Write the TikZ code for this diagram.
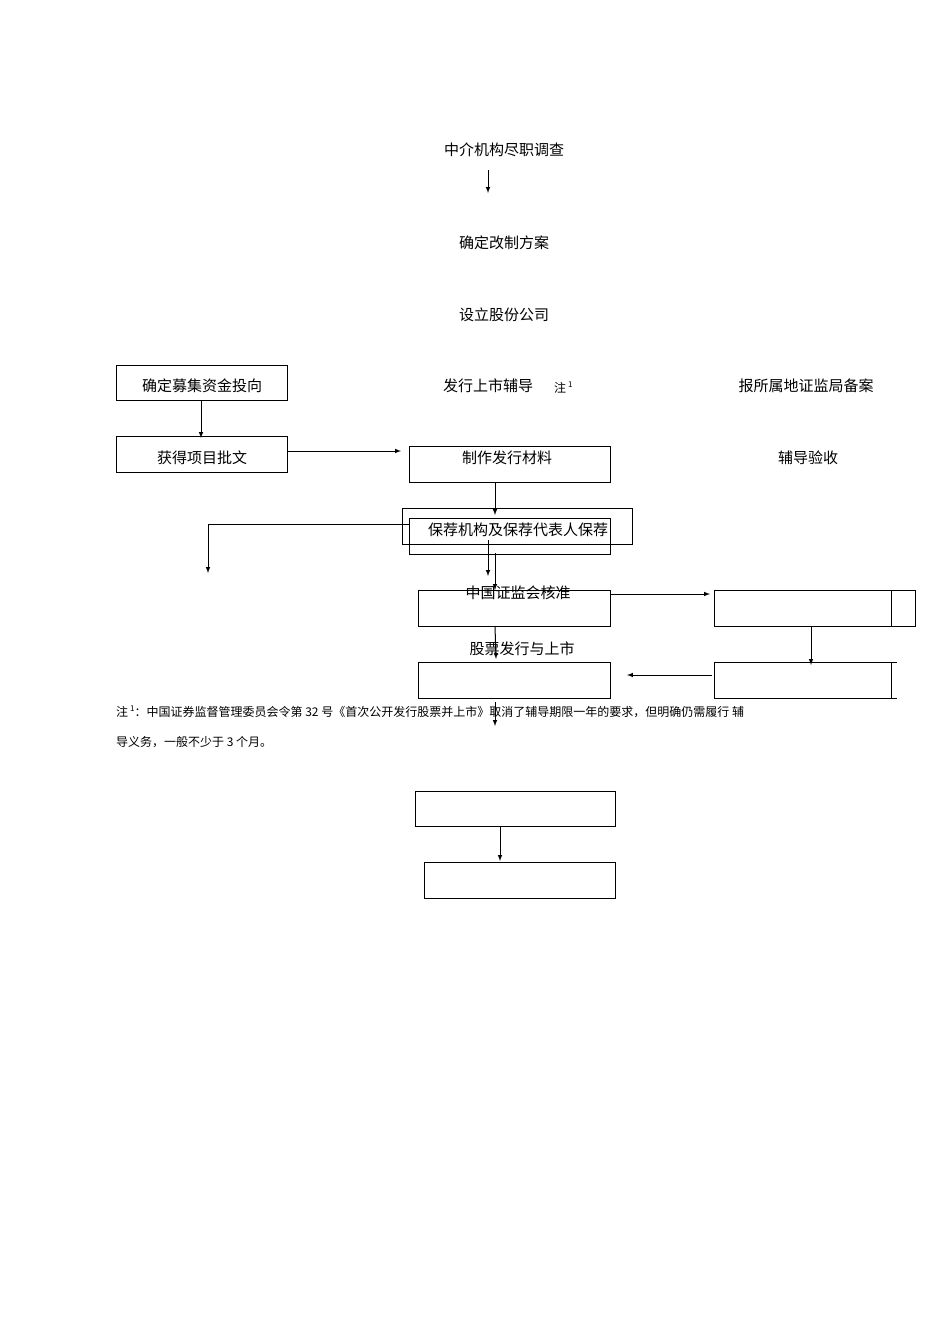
\documentclass[tikz,border=0pt]{standalone}
\usepackage{fontspec}
\setmainfont{Liberation Serif}
\newfontfamily\cjk{Noto Sans CJK SC}
\begin{document}
\begin{tikzpicture}[x=1pt,y=-1pt,
  bx/.style={draw,line width=0.8pt},
  ar/.style={-latex,line width=1pt},
  lb/.style={font=\cjk\fontsize{15}{18}\selectfont,inner sep=0pt},
  nt/.style={font=\cjk\fontsize{12}{14}\selectfont,inner sep=0pt,anchor=west}]
\useasboundingbox (0,0) rectangle (950,1344);
\node[lb] (t1) at (504,150) {中介机构尽职调查};
\coordinate (a1s) at (488,170); \coordinate (a1e) at (488,193);
\draw[ar] (a1s) -- (a1e);
\node[lb] (t2) at (504,243) {确定改制方案};
\node[lb] (t3) at (504,315) {设立股份公司};
\draw[bx] (116,365) rectangle (287,400);
\node[lb] (A) at (202,386) {确定募集资金投向};
\node[lb] (fx) at (488,386) {发行上市辅导};
\node[nt] (zhu) at (554,388) {注\,\raisebox{5pt}{\fontsize{8}{8}\selectfont 1}};
\node[lb] (bs) at (806,386) {报所属地证监局备案};
\draw[ar] (201,400) -- (201,438);
\draw[bx] (116,436) rectangle (287,472);
\node[lb] (B) at (202,458) {获得项目批文};
\draw[ar] (287,451) -- (401,451);
\draw[bx] (409,446) rectangle (610,482);
\node[lb] (C) at (507,458) {制作发行材料};
\node[lb] (ys) at (808,458) {辅导验收};
\draw[ar] (495,482) -- (495,515);
\draw[bx] (402,508) rectangle (632,544);
\draw[bx] (409,518) rectangle (610,554);
\node[lb] (D) at (518,530) {保荐机构及保荐代表人保荐};
\coordinate (dl) at (208,573);
\draw[ar] (409,524) -| (dl);
\draw[ar] (488,540) -- (488,576);
\draw[ar] (495,553) -- (495,590);
\draw[bx] (418,590) rectangle (610,626);
\node[lb] (E) at (518,593) {中国证监会核准};
\draw[ar] (610,594) -- (710,594);
\draw[bx] (714,590) rectangle (915,626);
\draw[bx] (891,590) -- (891,626);
\draw[ar] (811,626) -- (811,665);
\draw[ar] (495,626) -- (496,659);
\node[lb] (G0) at (522,649) {股票发行与上市};
\draw[bx] (418,662) rectangle (610,698);
\draw[bx] (897,662) -- (714,662) -- (714,698) -- (897,698);
\draw[bx] (891,662) -- (891,698);
\draw[ar] (712,675) -- (627,675);
\draw[ar] (495,702) -- (495,726);
\node[nt] (n1) at (116,712) {注\,\raisebox{5pt}{\fontsize{8}{8}\selectfont 1}：中国证券监督管理委员会令第 32 号《首次公开发行股票并上市》取消了辅导期限一年的要求，但明确仍需履行 辅};
\node[nt] (n2) at (116,742) {导义务，一般不少于 3 个月。};
\draw[bx] (415,791) rectangle (615,826);
\draw[ar] (500,826) -- (500,861);
\draw[bx] (424,862) rectangle (615,898);
\end{tikzpicture}
\end{document}
